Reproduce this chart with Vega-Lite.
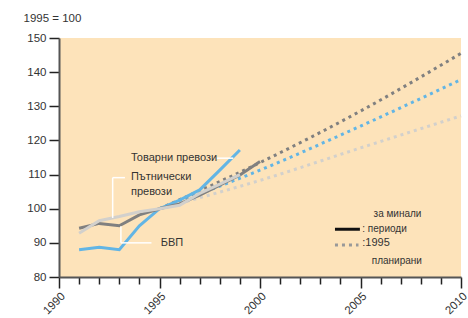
{
  "$schema": "https://vega.github.io/schema/vega-lite/v6.json",
  "width": 402,
  "height": 239,
  "autosize": "none",
  "padding": {"left": 59, "top": 38, "right": 7, "bottom": 41},
  "background": "white",
  "config": {
    "view": {"fill": "#FDE3BA", "stroke": null},
    "font": "Liberation Sans",
    "text": {"font": "Liberation Sans"},
    "axis": {"labelOverlap": false, "labelFlush": false, "grid": false}
  },
  "datasets": {
    "proj": [
      {"series": "freight", "year": 1995, "value": 100},
      {"series": "freight", "year": 2000, "value": 111.3},
      {"series": "freight", "year": 2005, "value": 124.2},
      {"series": "freight", "year": 2010, "value": 137.8},
      {"series": "gdp", "year": 1995, "value": 100},
      {"series": "gdp", "year": 2000, "value": 113.5},
      {"series": "gdp", "year": 2005, "value": 128.6},
      {"series": "gdp", "year": 2010, "value": 145.5},
      {"series": "passenger", "year": 1995, "value": 100},
      {"series": "passenger", "year": 2000, "value": 108.3},
      {"series": "passenger", "year": 2005, "value": 117.8},
      {"series": "passenger", "year": 2010, "value": 127.2}
    ],
    "actual": [
      {"series": "freight", "year": 1991, "value": 88},
      {"series": "freight", "year": 1992, "value": 88.7},
      {"series": "freight", "year": 1993, "value": 88},
      {"series": "freight", "year": 1994, "value": 95},
      {"series": "freight", "year": 1995, "value": 100},
      {"series": "freight", "year": 1996, "value": 102.5},
      {"series": "freight", "year": 1997, "value": 105.5},
      {"series": "freight", "year": 1998, "value": 111.3},
      {"series": "freight", "year": 1999, "value": 117.2},
      {"series": "gdp", "year": 1991, "value": 94.3},
      {"series": "gdp", "year": 1992, "value": 95.7},
      {"series": "gdp", "year": 1993, "value": 95},
      {"series": "gdp", "year": 1994, "value": 98.2},
      {"series": "gdp", "year": 1995, "value": 100},
      {"series": "gdp", "year": 1996, "value": 101.4},
      {"series": "gdp", "year": 1997, "value": 104},
      {"series": "gdp", "year": 1998, "value": 106.9},
      {"series": "gdp", "year": 1999, "value": 109.9},
      {"series": "gdp", "year": 2000, "value": 113.8},
      {"series": "passenger", "year": 1991, "value": 92.8},
      {"series": "passenger", "year": 1992, "value": 96.5},
      {"series": "passenger", "year": 1993, "value": 97.7},
      {"series": "passenger", "year": 1994, "value": 99.1},
      {"series": "passenger", "year": 1995, "value": 100},
      {"series": "passenger", "year": 1996, "value": 101},
      {"series": "passenger", "year": 1997, "value": 104.5},
      {"series": "passenger", "year": 1998, "value": 107.2},
      {"series": "passenger", "year": 1999, "value": 110}
    ],
    "leaders": [
      {"x1": 1997.84, "x2": 1998.67, "y1": 114.8, "y2": 114.8},
      {"x1": 1992.67, "x2": 1992.67, "y1": 109.1, "y2": 97.3},
      {"x1": 1992.67, "x2": 1993.28, "y1": 109.1, "y2": 109.1},
      {"x1": 1993.08, "x2": 1993.08, "y1": 94.9, "y2": 90.0},
      {"x1": 1993.08, "x2": 1994.6, "y1": 90.0, "y2": 90.0}
    ],
    "labels": [
      {"text": "Товарни превози", "year": 1993.58, "value": 115.0, "size": 11},
      {"text": "Пътнически", "year": 1993.58, "value": 109.2, "size": 11},
      {"text": "превози", "year": 1993.58, "value": 105.0, "size": 11},
      {"text": "БВП", "year": 1995.06, "value": 90.0, "size": 11},
      {"text": "за минали", "year": 2005.65, "value": 98.45, "size": 10},
      {"text": ": периоди", "year": 2005.09, "value": 93.96, "size": 10},
      {"text": ":1995", "year": 2005.09, "value": 89.86, "size": 11},
      {"text": "планирани", "year": 2005.56, "value": 84.77, "size": 10}
    ],
    "legendLines": [
      {"kind": "solid", "x1": 2003.73, "x2": 2004.97, "y": 94.0},
      {"kind": "dotted", "x1": 2003.73, "x2": 2004.9, "y": 89.4}
    ]
  },
  "layer": [
    {
      "data": {"name": "proj"},
      "mark": {"type": "line", "strokeWidth": 3, "strokeDash": [3, 4], "strokeCap": "butt", "interpolate": "monotone"},
      "encoding": {
        "x": {
          "field": "year", "type": "quantitative",
          "scale": {"domain": [1990, 2010], "nice": false, "zero": false},
          "axis": {
            "title": null,
            "values": [1990,1991,1992,1993,1994,1995,1996,1997,1998,1999,2000,2001,2002,2003,2004,2005,2006,2007,2008,2009,2010],
            "tickCount": 30,
            "labelExpr": "datum.value % 5 === 0 ? format(datum.value, 'd') : ''",
            "labelAngle": -45,
            "labelFontSize": 11.5,
            "labelColor": "#333333",
            "labelFont": "Liberation Sans",
            "labelPadding": 2,
            "tickSize": {"condition": {"test": "datum.value % 5 === 0", "value": 11}, "value": 7},
            "tickColor": "#222222",
            "tickWidth": 1.5,
            "domainColor": "#555555",
            "domainWidth": 2,
            "grid": false,
            "labelOverlap": false,
            "labelFlush": false
          }
        },
        "y": {
          "field": "value", "type": "quantitative",
          "scale": {"domain": [80, 150], "nice": false, "zero": false},
          "axis": {
            "title": "1995 = 100",
            "titleAngle": 0,
            "titleAlign": "left",
            "titleBaseline": "middle",
            "titleX": -36,
            "titleY": -20,
            "titleFontSize": 11.5,
            "titleFontWeight": "normal",
            "titleColor": "#333333",
            "titleFont": "Liberation Sans",
            "values": [80, 90, 100, 110, 120, 130, 140, 150],
            "tickCount": 12,
            "labelFontSize": 11.5,
            "labelColor": "#333333",
            "labelFont": "Liberation Sans",
            "labelPadding": 3,
            "labelOverlap": false,
            "tickSize": 10,
            "tickColor": "#222222",
            "tickWidth": 1.5,
            "domainColor": "#555555",
            "domainWidth": 2,
            "grid": false
          }
        },
        "color": {
          "field": "series", "type": "nominal",
          "scale": {"domain": ["freight", "gdp", "passenger"], "range": ["#62B5E5", "#808080", "#D2D0CC"]},
          "legend": null
        }
      }
    },
    {
      "data": {"name": "actual"},
      "mark": {"type": "line", "strokeWidth": 3},
      "encoding": {
        "x": {"field": "year", "type": "quantitative"},
        "y": {"field": "value", "type": "quantitative"},
        "color": {"field": "series", "type": "nominal", "legend": null},
        "order": {"field": "year"}
      }
    },
    {
      "data": {"name": "leaders"},
      "mark": {"type": "rule", "color": "white", "strokeWidth": 1.5},
      "encoding": {
        "x": {"field": "x1", "type": "quantitative"},
        "x2": {"field": "x2"},
        "y": {"field": "y1", "type": "quantitative"},
        "y2": {"field": "y2"}
      }
    },
    {
      "data": {"name": "legendLines"},
      "mark": {"type": "rule", "strokeWidth": 3, "strokeCap": "butt"},
      "encoding": {
        "x": {"field": "x1", "type": "quantitative"},
        "x2": {"field": "x2"},
        "y": {"field": "y", "type": "quantitative"},
        "stroke": {"field": "kind", "type": "nominal", "scale": {"domain": ["solid", "dotted"], "range": ["#111111", "#999999"]}, "legend": null},
        "strokeDash": {"field": "kind", "type": "nominal", "scale": {"domain": ["solid", "dotted"], "range": [[1, 0], [3, 4]]}, "legend": null}
      }
    },
    {
      "data": {"name": "labels"},
      "mark": {"type": "text", "align": "left", "baseline": "middle", "color": "#333333"},
      "encoding": {
        "x": {"field": "year", "type": "quantitative"},
        "y": {"field": "value", "type": "quantitative"},
        "text": {"field": "text"},
        "size": {"field": "size", "type": "quantitative", "scale": null}
      }
    }
  ]
}
